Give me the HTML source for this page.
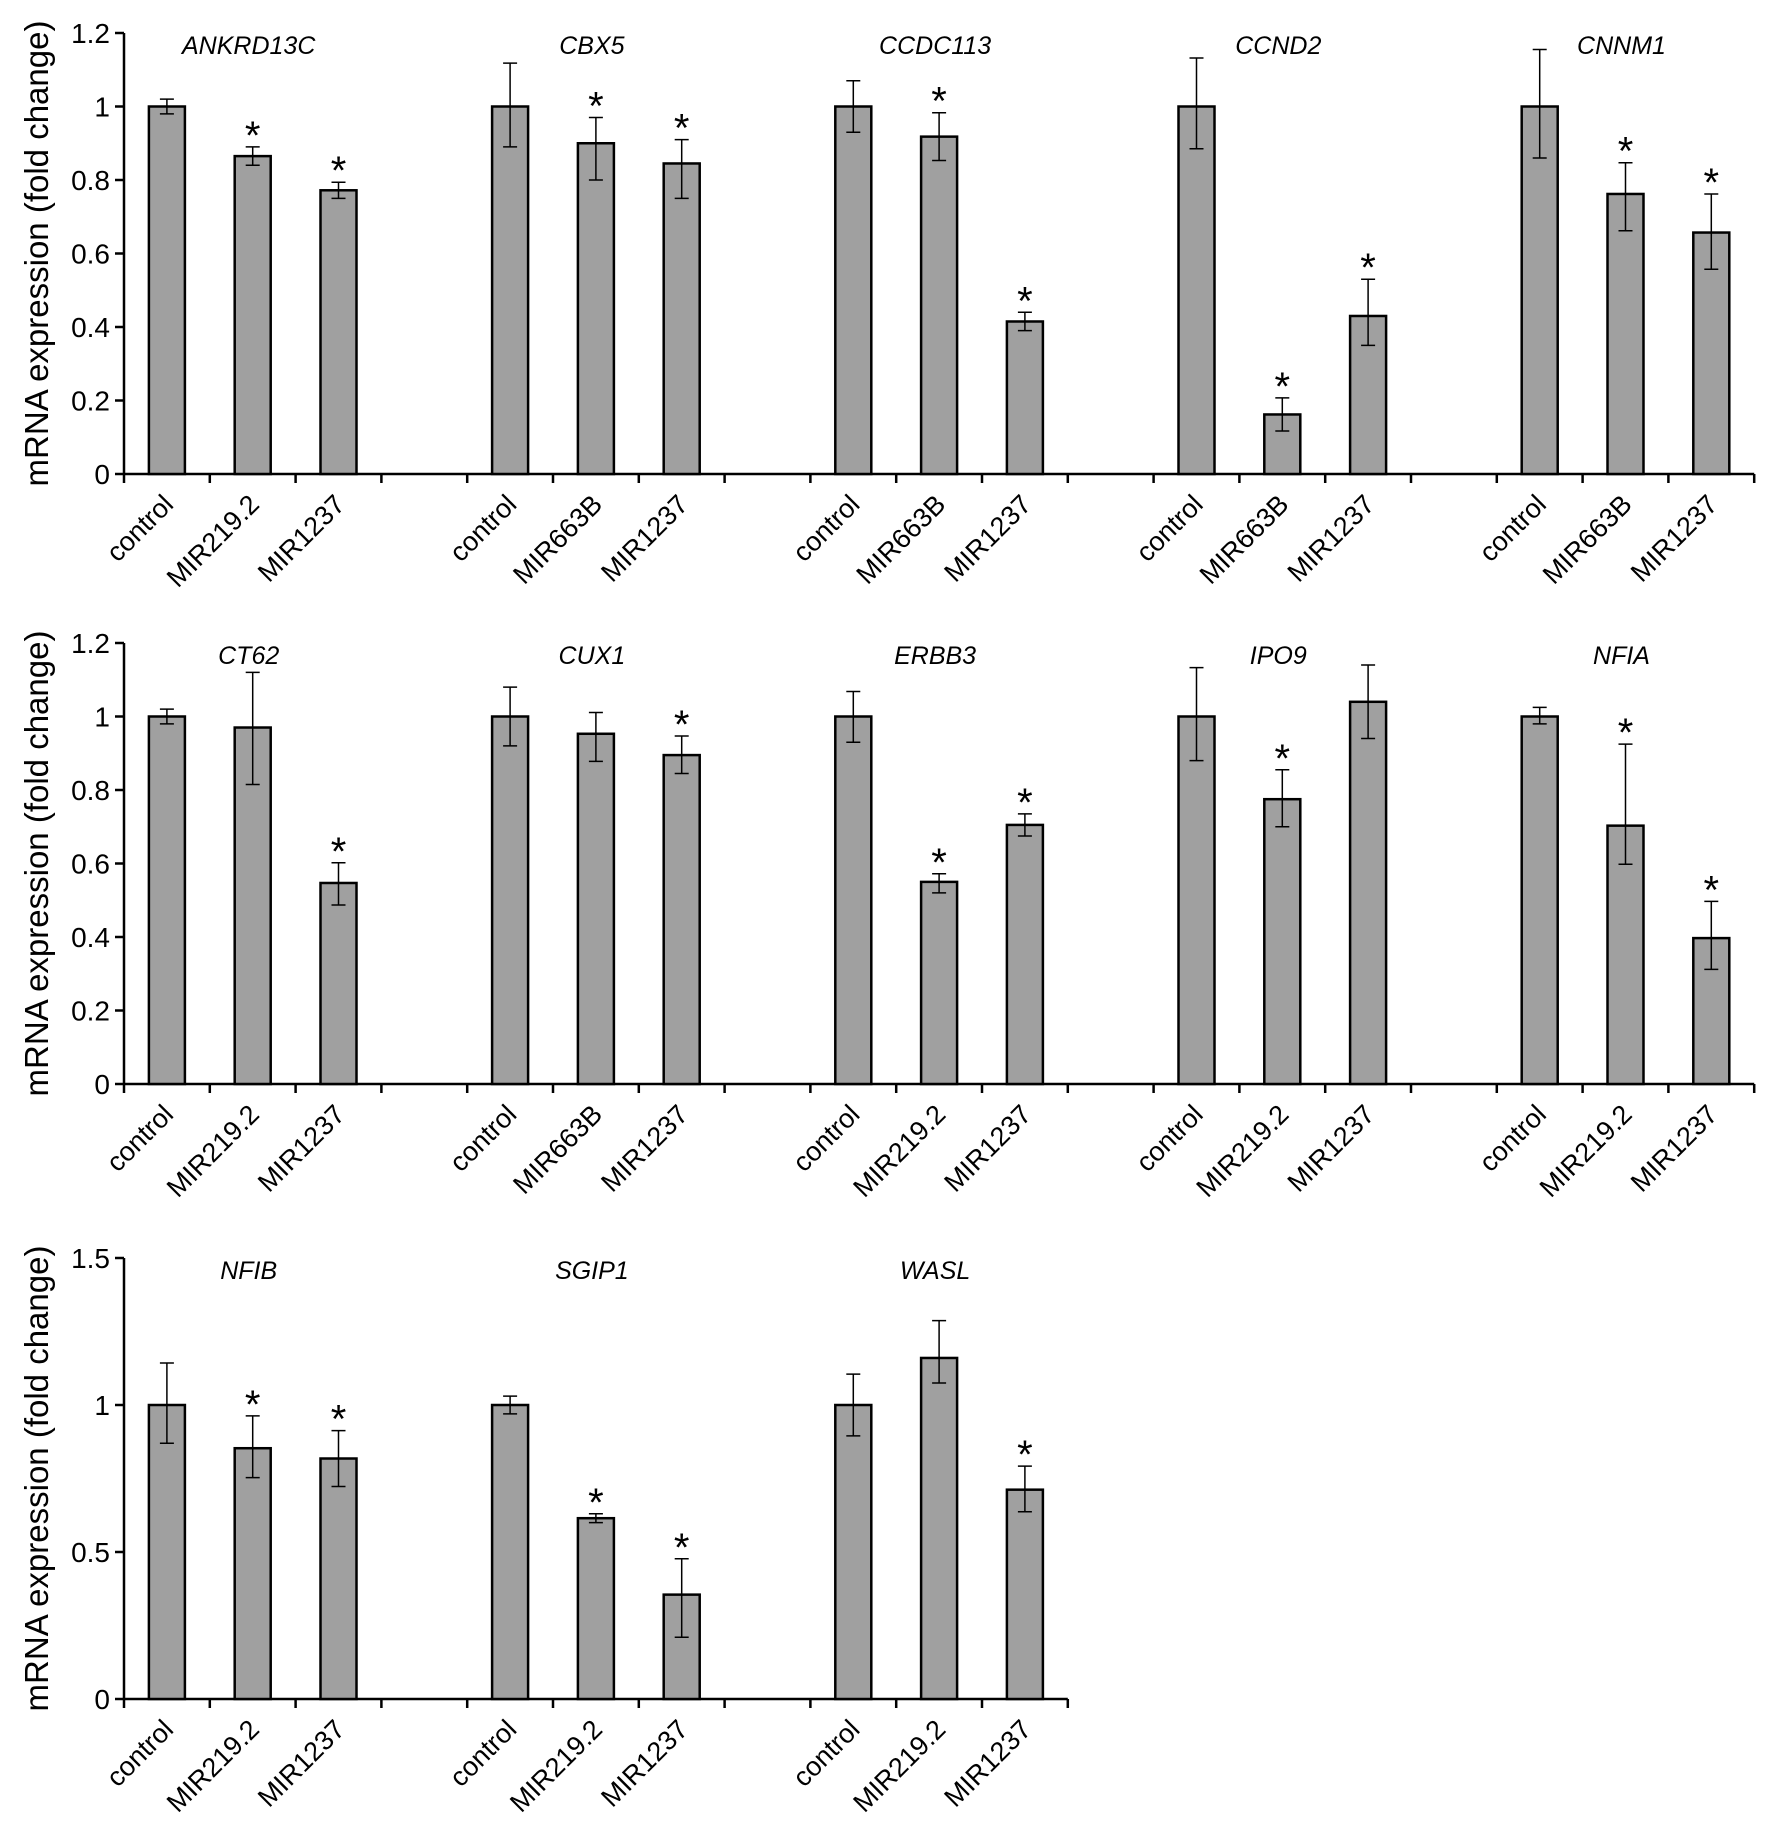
<!DOCTYPE html>
<html><head><meta charset="utf-8"><style>
body{margin:0;background:#fff;}
svg{display:block;font-family:"Liberation Sans",sans-serif;}
</style></head><body>
<svg id="chart" width="1772" height="1838" viewBox="0 0 1772 1838" xmlns="http://www.w3.org/2000/svg"></svg>
<script>
// Panel 1
const p1Genes = ["ANKRD13C","CBX5","CCDC113","CCND2","CNNM1"];
const p1Cats = [["control","MIR219.2","MIR1237"],["control","MIR663B","MIR1237"],["control","MIR663B","MIR1237"],["control","MIR663B","MIR1237"],["control","MIR663B","MIR1237"]];
const p1Values = [[1,0.865,0.772],[1,0.9,0.845],[1,0.918,0.415],[1,0.162,0.43],[1,0.762,0.657]];
const p1ErrUp = [[0.02,0.025,0.022],[0.118,0.07,0.065],[0.07,0.065,0.025],[0.132,0.045,0.1],[0.155,0.085,0.105]];
const p1ErrDown = [[0.02,0.025,0.022],[0.11,0.1,0.095],[0.07,0.065,0.025],[0.115,0.045,0.08],[0.14,0.1,0.1]];
const p1Stars = [[0,1,1],[0,1,1],[0,1,1],[0,1,1],[0,1,1]];
const p1Ticks = [0,0.2,0.4,0.6,0.8,1,1.2];
const p1TickLabels = ["0","0.2","0.4","0.6","0.8","1","1.2"];
// Panel 2
const p2Genes = ["CT62","CUX1","ERBB3","IPO9","NFIA"];
const p2Cats = [["control","MIR219.2","MIR1237"],["control","MIR663B","MIR1237"],["control","MIR219.2","MIR1237"],["control","MIR219.2","MIR1237"],["control","MIR219.2","MIR1237"]];
const p2Values = [[1,0.97,0.547],[1,0.953,0.895],[1,0.55,0.705],[1,0.775,1.04],[1,0.703,0.397]];
const p2ErrUp = [[0.02,0.15,0.055],[0.08,0.058,0.052],[0.068,0.022,0.03],[0.133,0.08,0.1],[0.025,0.222,0.1]];
const p2ErrDown = [[0.02,0.155,0.06],[0.08,0.075,0.05],[0.07,0.03,0.03],[0.12,0.075,0.1],[0.02,0.105,0.085]];
const p2Stars = [[0,0,1],[0,0,1],[0,1,1],[0,1,0],[0,1,1]];
const p2Ticks = [0,0.2,0.4,0.6,0.8,1,1.2];
const p2TickLabels = ["0","0.2","0.4","0.6","0.8","1","1.2"];
// Panel 3
const p3Genes = ["NFIB","SGIP1","WASL"];
const p3Cats = [["control","MIR219.2","MIR1237"],["control","MIR219.2","MIR1237"],["control","MIR219.2","MIR1237"]];
const p3Values = [[1,0.853,0.818],[1,0.615,0.355],[1,1.16,0.712]];
const p3ErrUp = [[0.143,0.11,0.095],[0.03,0.015,0.122],[0.105,0.127,0.08]];
const p3ErrDown = [[0.13,0.1,0.095],[0.03,0.015,0.145],[0.105,0.085,0.075]];
const p3Stars = [[0,1,1],[0,1,1],[0,0,1]];
const p3Ticks = [0,0.5,1,1.5];
const p3TickLabels = ["0","0.5","1","1.5"];

const NS="http://www.w3.org/2000/svg";
const svg=document.getElementById('chart');
function mk(tag,attrs,parent){const e=document.createElementNS(NS,tag);for(const k in attrs)e.setAttribute(k,attrs[k]);(parent||svg).appendChild(e);return e;}

function panel(id,genes,cats,values,up,down,stars,ticks,tickLabels,zeroY,topY,maxV){
  const g=mk('g',{});
  
  
  const axisX=124, slot=85.8, barW=36;
  const nSlots=genes.length*4-1;
  const y=v=>zeroY-(v/maxV)*(zeroY-topY);
  const xc=(gi,j)=>axisX+(gi*4+j+0.5)*slot;
  const ya=mk('line',{x1:axisX,y1:topY,x2:axisX,y2:zeroY,stroke:'#000','stroke-width':2.5},g);
  
  
  ticks.forEach((t,i)=>{
    mk('line',{x1:axisX-9,y1:y(t),x2:axisX,y2:y(t),stroke:'#000','stroke-width':2.5},g);
    const tl=mk('text',{x:axisX-14,y:y(t)+10,'text-anchor':'end','font-size':28,fill:'#000'},g);
    tl.textContent=tickLabels[i];
    
    
  });
  const tt=mk('text',{transform:`translate(48,${(zeroY+topY)/2}) rotate(-90)`,'text-anchor':'middle','font-size':33,fill:'#000'},g);
  tt.textContent='mRNA expression (fold change)';
  
  
  const xa=mk('line',{x1:axisX,y1:zeroY,x2:axisX+nSlots*slot,y2:zeroY,stroke:'#000','stroke-width':2.5},g);
  
  
  for(let i=0;i<=nSlots;i++) mk('line',{x1:axisX+i*slot,y1:zeroY,x2:axisX+i*slot,y2:zeroY+9,stroke:'#000','stroke-width':2.5},g);
  genes.forEach((gn,gi)=>{
    const gt=mk('text',{x:xc(gi,1)-4,y:topY+21,'text-anchor':'middle','font-size':25,'font-style':'italic',fill:'#000'},g);
    gt.textContent=gn;
    
    
    for(let j=0;j<3;j++){
      const v=values[gi][j], cx=xc(gi,j);
      const b=mk('rect',{x:cx-barW/2,y:y(v),width:barW,height:zeroY-y(v),fill:'#a0a0a0',stroke:'#000','stroke-width':2.5},g);
      
      
      const yt=y(v+up[gi][j]), yb=y(v-down[gi][j]);
      const e=mk('path',{d:`M${cx},${yt}V${yb}M${cx-7},${yt}H${cx+7}M${cx-7},${yb}H${cx+7}`,stroke:'#000','stroke-width':1.5,fill:'none'},g);
      
      
      if(stars[gi][j]){
        const s=mk('text',{x:cx,y:yt+2,'text-anchor':'middle','font-size':40,fill:'#000'},g);
        s.textContent='*';
        
        
      }
      const lx=cx+8, ly=zeroY+32;
      const l=mk('text',{transform:`translate(${lx},${ly}) rotate(-45)`,'text-anchor':'end','font-size':27,fill:'#000'},g);
      l.textContent=cats[gi][j];
      
      
    }
  });
}
panel('panel-top',p1Genes,p1Cats,p1Values,p1ErrUp,p1ErrDown,p1Stars,p1Ticks,p1TickLabels,474,33,1.2);
panel('panel-middle',p2Genes,p2Cats,p2Values,p2ErrUp,p2ErrDown,p2Stars,p2Ticks,p2TickLabels,1084,643,1.2);
panel('panel-bottom',p3Genes,p3Cats,p3Values,p3ErrUp,p3ErrDown,p3Stars,p3Ticks,p3TickLabels,1699,1258,1.5);
</script>
</body></html>
